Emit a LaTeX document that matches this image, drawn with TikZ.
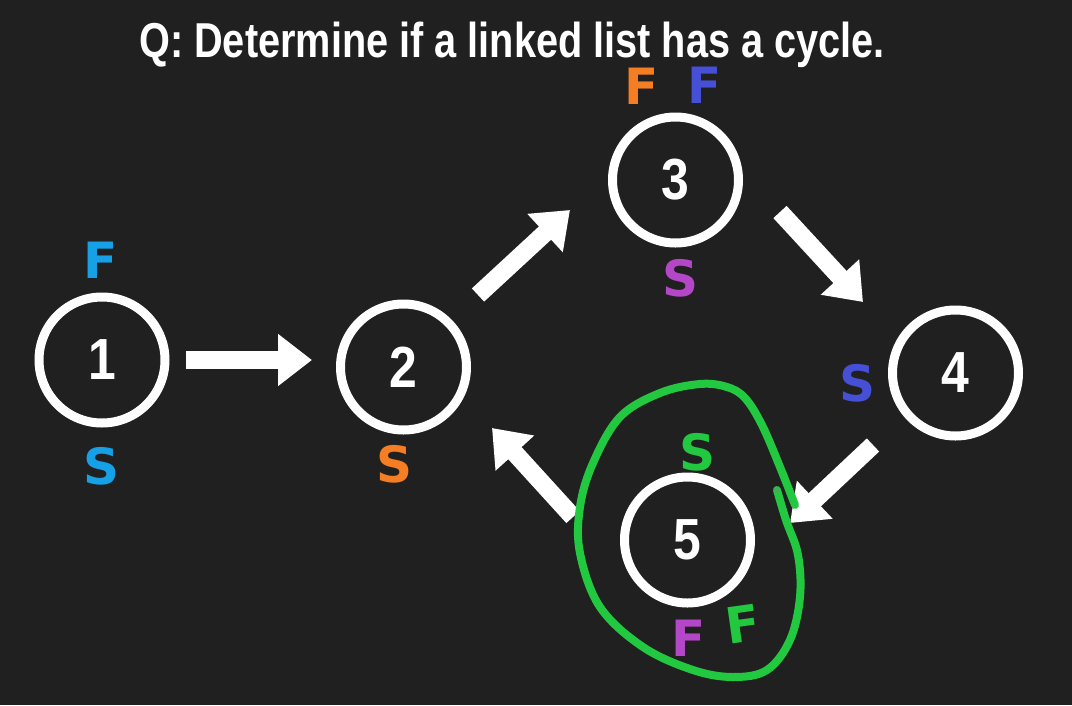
\documentclass[tikz,border=0pt]{standalone}
\usepackage{fontspec}
\usetikzlibrary{arrows.meta,calc}
\newfontfamily\titlefont[FakeStretch=0.81]{Liberation Sans Bold}
\newfontfamily\digitfont[FakeStretch=0.86]{Liberation Sans Bold}
\newfontfamily\handfont{DejaVu Sans Bold}
\definecolor{bg}{RGB}{32,32,32}
\definecolor{cblue}{RGB}{22,160,230}
\definecolor{corange}{RGB}{245,125,35}
\definecolor{cindigo}{RGB}{70,80,215}
\definecolor{cmagenta}{RGB}{180,70,200}
\definecolor{cgreen}{RGB}{34,200,64}
\begin{document}
\begin{tikzpicture}[x=1pt,y=-1pt,
  listnode/.style={circle,draw=white,line width=9pt,minimum size=126pt,inner sep=0pt,
    text=white,font=\digitfont\fontsize{58}{58}\selectfont},
  blockarrow/.style={draw=white,line width=18pt,-{Triangle[length=34pt,width=50pt]}},
  hand/.style={inner sep=0pt,font=\handfont\fontsize{50}{50}\selectfont},
  loop/.style={draw=cgreen,line width=8pt,line cap=round,line join=round}]
\fill[bg] (0,0) rectangle (1072,705);
\useasboundingbox (0,0) rectangle (1072,705);
\node[anchor=base,text=white,inner sep=0pt,font=\titlefont\fontsize{49}{49}\selectfont] (title) at (512,57) {Q: Determine if a linked list has a cycle.};
\node[listnode] (n1) at (102,360) {1};
\node[listnode] (n2) at (403.5,367) {2};
\node[listnode] (n3) at (675.5,180) {3};
\node[listnode] (n4) at (955.5,373) {4};
\node[listnode] (n5) at (687.5,540) {5};
\draw[blockarrow] ($(n1)+(84,0)$) -- ($(n2)+(-91.5,-7)$);
\draw[blockarrow] ($(n2)+(74.5,-72)$) -- ($(n3)+(-105.5,30)$);
\draw[blockarrow] ($(n3)+(104.5,32)$) -- ($(n4)+(-92.5,-71)$);
\draw[blockarrow] ($(n4)+(-82.5,72)$) -- ($(n5)+(102.5,-17)$);
\draw[blockarrow] ($(n5)+(-114.5,-23)$) -- ($(n2)+(88.5,61)$);
\node[hand,text=cblue] (f1) at (101,260) {F};
\node[hand,text=cblue] (s1) at (102,466) {S};
\node[hand,text=corange] (s2) at (395,464) {S};
\node[hand,text=corange] (f3a) at (642,86) {F};
\node[hand,text=cindigo] (f3b) at (705,85) {F};
\node[hand,text=cmagenta] (s3) at (681,278) {S};
\node[hand,text=cindigo] (s4) at (857,383) {S};
\node[hand,text=cgreen] (s5) at (697,452) {S};
\node[hand,text=cmagenta] (f5a) at (689,638) {F};
\node[hand,text=cgreen,rotate=8] (f5b) at (743,624) {F};
\draw[loop] plot[smooth,tension=0.6] coordinates {(777,490) (786,520) (798,555) (800,597) (790,640) (767,670) (733,677) (693,670) (643,647) (600,607) (580,553) (580,507) (593,463) (620,417) (660,393) (700,384) (727,387) (745,398) (762,425) (780,467) (795,505)};
\fill[cgreen!60!gray] (777,490) circle (3pt);
\end{tikzpicture}
\end{document}
